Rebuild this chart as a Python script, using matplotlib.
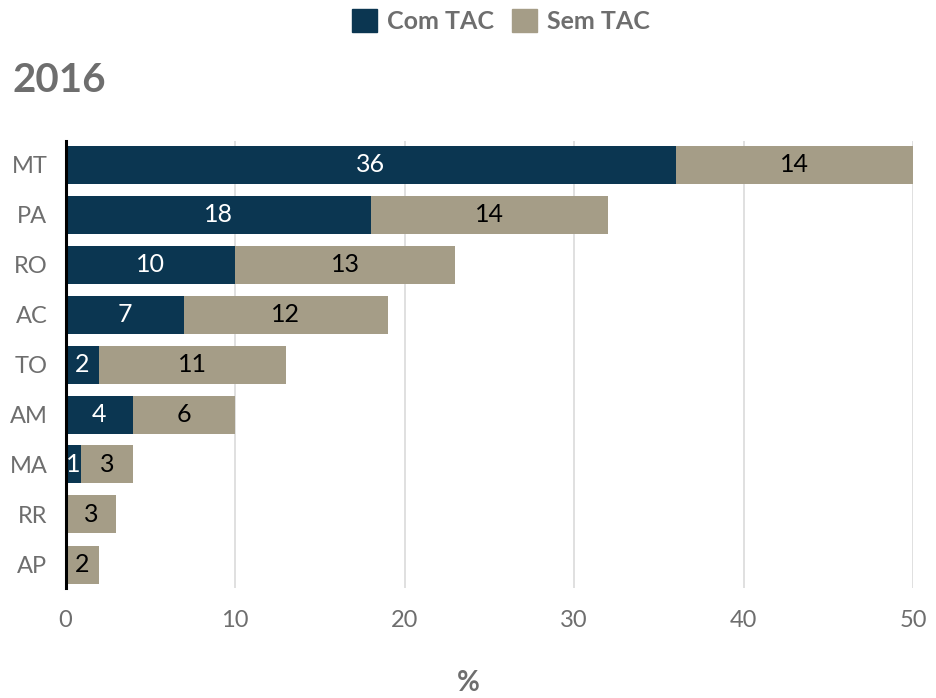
import matplotlib
matplotlib.use("Agg")
import matplotlib.pyplot as plt
from matplotlib.patches import Patch

states = ["MT", "PA", "RO", "AC", "TO", "AM", "MA", "RR", "AP"]
com_tac = [36, 18, 10, 7, 2, 4, 0.9, 0, 0]
sem_tac = [14, 14, 13, 12, 11, 6, 3.1, 3, 2]
xticks = [0, 10, 20, 30, 40, 50]
series_names = ["Com TAC", "Sem TAC"]
title = "2016"
xlabel = "%"

NAVY = "#0B3651"
BEIGE = "#A59D87"
GRAY = "#6E6E6E"
FONT = "Lato"

plt.rcParams["font.family"] = [FONT, "DejaVu Sans"]

fig = plt.figure(figsize=(9.36, 6.98), dpi=100)
ax = fig.add_axes([65.5/936, 1-588/698, (913-65.5)/936, (588-141)/698])

y = list(range(len(states)))
h = 0.76
b1 = ax.barh(y, com_tac, height=h, color=NAVY, zorder=3)
b2 = ax.barh(y, sem_tac, left=com_tac, height=h, color=BEIGE, zorder=3)

for rect, v in zip(b1, com_tac):
    if v > 0:
        ax.text(rect.get_x() + rect.get_width()/2, rect.get_y() + rect.get_height()/2,
                f"{v:.0f}", ha="center", va="center", color="white", fontsize=18, zorder=4)
for rect, v in zip(b2, sem_tac):
    if v > 0:
        ax.text(rect.get_x() + rect.get_width()/2, rect.get_y() + rect.get_height()/2,
                f"{v:.0f}", ha="center", va="center", color="black", fontsize=18, zorder=4)

ax.set_xlim(0, 50)
ax.set_ylim(len(states) - 0.53, -0.47)
ax.set_xticks(xticks)
ax.set_yticks(y)
ax.set_yticklabels(states)
ax.xaxis.grid(True, color="#DADADA", linewidth=1.2, zorder=0)
ax.set_axisbelow(True)
for s in ["top", "right", "bottom"]:
    ax.spines[s].set_visible(False)
ax.spines["left"].set_color("black")
ax.spines["left"].set_linewidth(2.2)
ax.spines["left"].set_zorder(5)
ax.tick_params(axis="both", length=0, labelsize=17, labelcolor=GRAY)
ax.tick_params(axis="x", pad=16)
ax.tick_params(axis="y", pad=13)

fig.text(12/936, 1-80/698, title, fontsize=29, fontweight="bold", color=GRAY, va="center", ha="left")
fig.text(0.5, 1-683/698, xlabel, fontsize=20, fontweight="bold", color=GRAY, va="center", ha="center")

handles = [Patch(color=NAVY), Patch(color=BEIGE)]
leg = fig.legend(handles, series_names, loc="center", bbox_to_anchor=(501/936, 1-21/698), ncol=2,
                 frameon=False, prop={"family": FONT, "weight": "bold", "size": 18},
                 handlelength=1.0, handleheight=1.0, handletextpad=0.4, columnspacing=0.7)
for t in leg.get_texts():
    t.set_color(GRAY)

fig.savefig("out.png", dpi=100)
